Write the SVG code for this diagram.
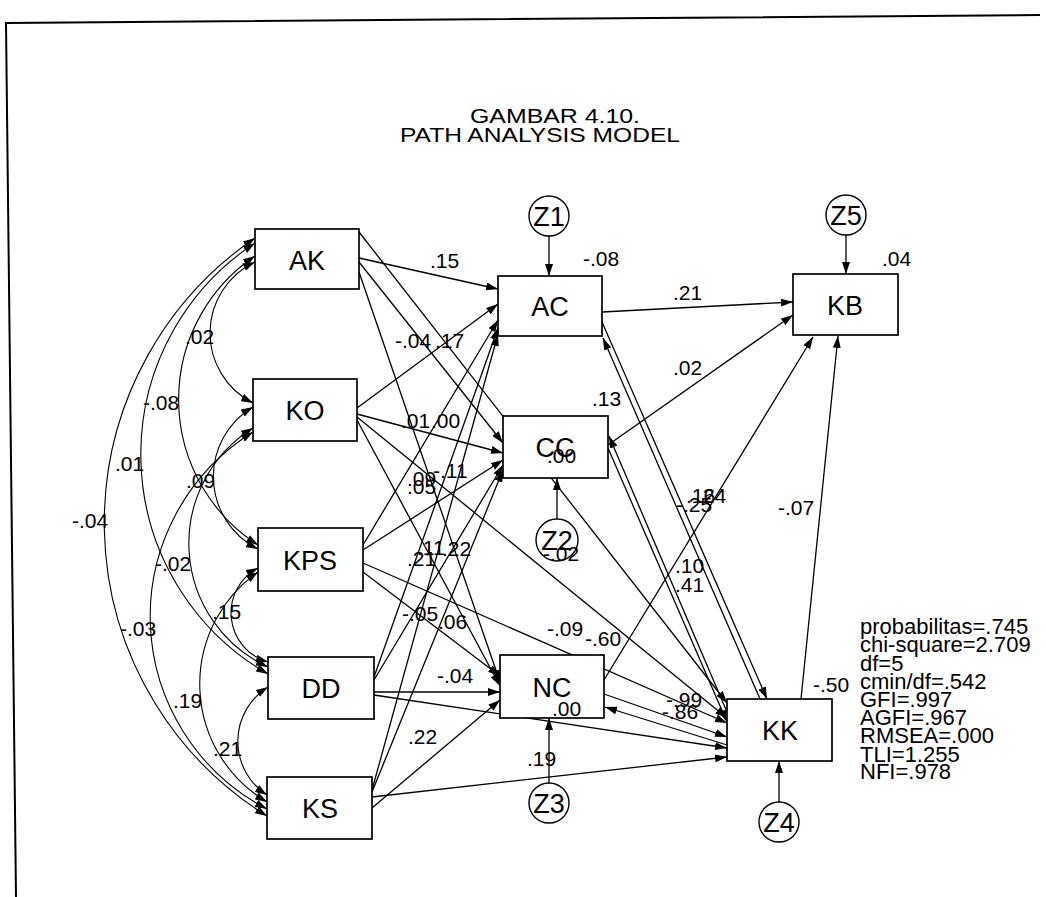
<svg xmlns="http://www.w3.org/2000/svg" width="1046" height="897" viewBox="0 0 1046 897">
<defs>
<marker id="ah" markerUnits="userSpaceOnUse" markerWidth="12" markerHeight="8" viewBox="0 0 12 8" refX="12" refY="4" orient="auto"><path d="M0,0 L12,4 L0,8 z" fill="#000"/></marker>
<marker id="ah2" markerUnits="userSpaceOnUse" markerWidth="12" markerHeight="8" viewBox="0 0 12 8" refX="12" refY="4" orient="auto-start-reverse"><path d="M0,0 L12,4 L0,8 z" fill="#000"/></marker>
</defs>
<style>
text{font-family:"Liberation Sans",Arial,sans-serif;fill:#000}
.box{fill:#fff;stroke:#000;stroke-width:1.7}
.err{fill:#fff;stroke:#000;stroke-width:1.4}
.nl{font-size:27px;text-anchor:middle}
.zl{font-size:27px;text-anchor:middle}
.lbl{font-size:21px}
.st{font-size:22px}
.ttl{font-size:21px;text-anchor:middle}
.p{stroke:#000;stroke-width:1.3;fill:none;marker-end:url(#ah)}
.cov{stroke:#000;stroke-width:1.1;fill:none;marker-start:url(#ah2);marker-end:url(#ah2)}
</style>
<rect width="1046" height="897" fill="#fff"/>
<path d="M16,897 L6,23 L1040,15" fill="none" stroke="#000" stroke-width="2"/>
<g id="title">
<text class="ttl" x="555" y="123" textLength="170" lengthAdjust="spacingAndGlyphs">GAMBAR 4.10.</text>
<text class="ttl" x="540" y="142" textLength="280" lengthAdjust="spacingAndGlyphs">PATH ANALYSIS MODEL</text>
</g>
<g id="connectors">
<path class="cov" d="M255,262 A78.5,78.5 0 0 0 253,403"/>
<path class="cov" d="M255,256 A173,173 0 0 0 258,545"/>
<path class="cov" d="M255,243 A253,253 0 0 0 268,674"/>
<path class="cov" d="M255,238 A345,345 0 0 0 267,816"/>
<path class="cov" d="M253,407 A81,81 0 0 0 258,549"/>
<path class="cov" d="M253,428 A136,136 0 0 0 268,667"/>
<path class="cov" d="M253,432 A217,217 0 0 0 267,809"/>
<path class="cov" d="M258,568 A51,51 0 0 0 268,662"/>
<path class="cov" d="M258,572 A137,137 0 0 0 267,802"/>
<path class="cov" d="M268,687 A64,64 0 0 0 267,795"/>
<line class="p" x1="359" y1="258" x2="498" y2="289"/>
<line class="p" x1="359" y1="262" x2="503" y2="443"/>
<line class="p" x1="359" y1="272" x2="500" y2="682"/>
<line class="p" x1="359" y1="232" x2="727" y2="703"/>
<line class="p" x1="357" y1="408" x2="498" y2="304"/>
<line class="p" x1="357" y1="414" x2="503" y2="453"/>
<line class="p" x1="357" y1="420" x2="500" y2="686"/>
<line class="p" x1="357" y1="417" x2="727" y2="718"/>
<line class="p" x1="363" y1="545" x2="498" y2="320"/>
<line class="p" x1="363" y1="550" x2="503" y2="460"/>
<line class="p" x1="363" y1="572" x2="500" y2="676"/>
<line class="p" x1="363" y1="563" x2="727" y2="723"/>
<line class="p" x1="374" y1="677" x2="498" y2="328"/>
<line class="p" x1="374" y1="680" x2="503" y2="465"/>
<line class="p" x1="374" y1="692" x2="500" y2="692"/>
<line class="p" x1="374" y1="695" x2="727" y2="748"/>
<line class="p" x1="372" y1="790" x2="498" y2="334"/>
<line class="p" x1="372" y1="792" x2="503" y2="470"/>
<line class="p" x1="372" y1="808" x2="500" y2="700"/>
<line class="p" x1="372" y1="797" x2="727" y2="757"/>
<line class="p" x1="602" y1="312" x2="793" y2="302"/>
<line class="p" x1="608" y1="445" x2="793" y2="315"/>
<line class="p" x1="604" y1="680" x2="813" y2="337"/>
<line class="p" x1="801" y1="699" x2="838" y2="336"/>
<line class="p" x1="602" y1="322" x2="767" y2="699"/>
<line class="p" x1="760" y1="699" x2="603" y2="338"/>
<line class="p" x1="608" y1="448" x2="727" y2="722"/>
<line class="p" x1="727" y1="712" x2="609" y2="436"/>
<line class="p" x1="604" y1="694" x2="727" y2="737"/>
<line class="p" x1="727" y1="745" x2="605" y2="707"/>
<line class="p" x1="549" y1="236" x2="549" y2="276"/>
<line class="p" x1="557" y1="519" x2="557" y2="478"/>
<line class="p" x1="549" y1="783" x2="549" y2="718"/>
<line class="p" x1="779" y1="802" x2="779" y2="761"/>
<line class="p" x1="846" y1="235" x2="846" y2="274"/>
</g>
<g id="AK"><rect class="box" x="255" y="229" width="104" height="60"/><text class="nl" x="307" y="270">AK</text></g>
<g id="KO"><rect class="box" x="253" y="379" width="104" height="62"/><text class="nl" x="305" y="420">KO</text></g>
<g id="KPS"><rect class="box" x="258" y="528" width="105" height="63"/><text class="nl" x="310" y="570">KPS</text></g>
<g id="DD"><rect class="box" x="268" y="657" width="106" height="62"/><text class="nl" x="321" y="698">DD</text></g>
<g id="KS"><rect class="box" x="267" y="777" width="105" height="62"/><text class="nl" x="320" y="818">KS</text></g>
<g id="AC"><rect class="box" x="498" y="276" width="104" height="60"/><text class="nl" x="550" y="316">AC</text></g>
<g id="CC"><rect class="box" x="503" y="416" width="105" height="62"/><text class="nl" x="555" y="457">CC</text></g>
<g id="NC"><rect class="box" x="500" y="655" width="104" height="63"/><text class="nl" x="552" y="697">NC</text></g>
<g id="KB"><rect class="box" x="793" y="274" width="105" height="61"/><text class="nl" x="845" y="315">KB</text></g>
<g id="KK"><rect class="box" x="727" y="699" width="105" height="62"/><text class="nl" x="780" y="740">KK</text></g>
<g id="Z1"><circle class="err" cx="549" cy="216" r="20"/><text class="zl" x="549" y="226">Z1</text></g>
<g id="Z2"><circle class="err" cx="557" cy="540" r="21"/><text class="zl" x="557" y="550">Z2</text></g>
<g id="Z3"><circle class="err" cx="549" cy="803" r="20"/><text class="zl" x="549" y="813">Z3</text></g>
<g id="Z4"><circle class="err" cx="779" cy="822" r="20"/><text class="zl" x="779" y="832">Z4</text></g>
<g id="Z5"><circle class="err" cx="846" cy="215" r="20"/><text class="zl" x="846" y="225">Z5</text></g>
<g id="labels" class="lbl">
<text x="185" y="344">.02</text>
<text x="143" y="410">-.08</text>
<text x="115" y="471">.01</text>
<text x="72" y="528">-.04</text>
<text x="186" y="488">.09</text>
<text x="155" y="571">-.02</text>
<text x="120" y="636">-.03</text>
<text x="212" y="619">.15</text>
<text x="173" y="708">.19</text>
<text x="213" y="756">.21</text>
<text x="430" y="268">.15</text>
<text x="395" y="348">-.04</text>
<text x="435" y="348">.17</text>
<text x="401" y="428">.01</text>
<text x="431" y="428">.00</text>
<text x="407" y="486">.09</text>
<text x="407" y="494">.05</text>
<text x="433" y="478">-.11</text>
<text x="417" y="555">.11</text>
<text x="407" y="566">.21</text>
<text x="442" y="556">.22</text>
<text x="402" y="621">-.05</text>
<text x="438" y="629">.06</text>
<text x="437" y="683">-.04</text>
<text x="408" y="744">.22</text>
<text x="527" y="766">.19</text>
<text x="547" y="636">-.09</text>
<text x="585" y="646">-.60</text>
<text x="666" y="707">-.99</text>
<text x="662" y="719">-.86</text>
<text x="592" y="406">.13</text>
<text x="673" y="375">.02</text>
<text x="673" y="300">.21</text>
<text x="686" y="503">.16</text>
<text x="697" y="503">.24</text>
<text x="676" y="512">-.25</text>
<text x="675" y="573">.10</text>
<text x="675" y="592">.41</text>
<text x="543" y="561">-.02</text>
<text x="778" y="515">-.07</text>
<text x="583" y="266">-.08</text>
<text x="547" y="463">.00</text>
<text x="552" y="716">.00</text>
<text x="813" y="692">-.50</text>
<text x="882" y="266">.04</text>
</g>
<g id="stats" class="st">
<text x="860" y="634">probabilitas=.745</text>
<text x="860" y="652">chi-square=2.709</text>
<text x="860" y="671">df=5</text>
<text x="860" y="689">cmin/df=.542</text>
<text x="860" y="707">GFI=.997</text>
<text x="860" y="725">AGFI=.967</text>
<text x="860" y="743">RMSEA=.000</text>
<text x="860" y="762">TLI=1.255</text>
<text x="860" y="779">NFI=.978</text>
</g>
</svg>
